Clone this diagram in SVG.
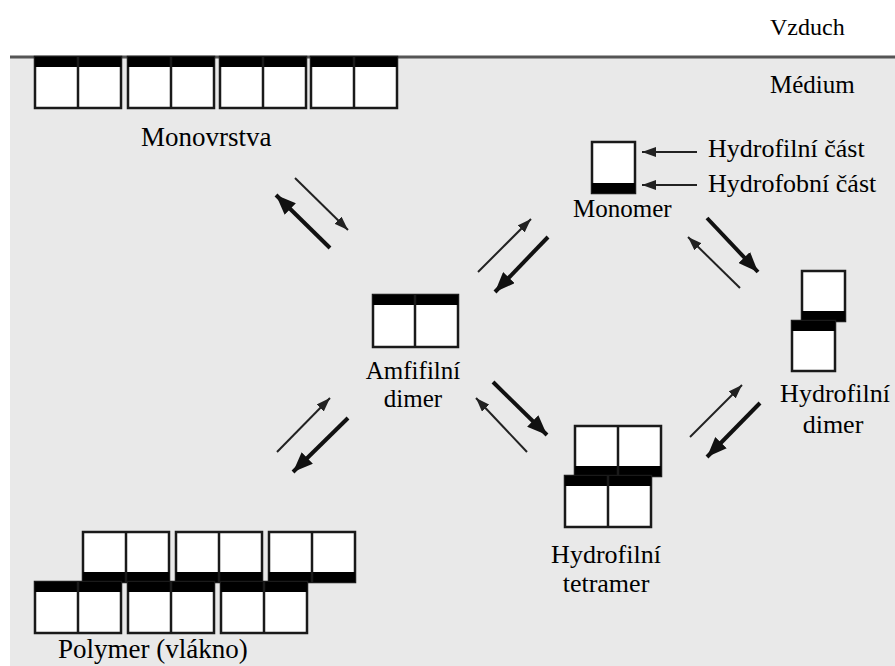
<svg xmlns="http://www.w3.org/2000/svg" width="895" height="666" viewBox="0 0 895 666">
<defs>
<marker id="hs" markerUnits="userSpaceOnUse" markerWidth="14" markerHeight="10" refX="14" refY="5" orient="auto"><path d="M0,0 L14,5 L0,10 z" fill="#222"/></marker>
<marker id="hb" markerUnits="userSpaceOnUse" markerWidth="20" markerHeight="16" refX="20" refY="8" orient="auto"><path d="M0,0 L20,8 L0,16 z" fill="#111"/></marker>
<g id="pairTop"><rect x="0" y="0" width="86" height="51" fill="#fff" stroke="#1a1a1a" stroke-width="2.5"/><rect x="0" y="0" width="86" height="10" fill="#000"/><line x1="43" y1="0" x2="43" y2="51" stroke="#1a1a1a" stroke-width="2.5"/></g>
<g id="pairBottom"><rect x="0" y="0" width="86" height="50" fill="#fff" stroke="#1a1a1a" stroke-width="2.5"/><rect x="0" y="40" width="86" height="10" fill="#000"/><line x1="43" y1="0" x2="43" y2="50" stroke="#1a1a1a" stroke-width="2.5"/></g>
</defs>
<rect x="0" y="0" width="895" height="666" fill="#fff"/>
<rect x="10" y="57" width="885" height="609" fill="#e9e9e9"/>
<line x1="10" y1="57" x2="895" y2="57" stroke="#555" stroke-width="3"/>
<text x="770" y="35" font-family="Liberation Serif" font-size="24">Vzduch</text>
<text x="770" y="93" font-family="Liberation Serif" font-size="25">Médium</text>

<g id="monovrstva">
<use href="#pairTop" x="35" y="57"/>
<use href="#pairTop" x="128" y="57"/>
<use href="#pairTop" x="220" y="57"/>
<use href="#pairTop" x="311" y="57"/>
<text x="141" y="146" font-family="Liberation Serif" font-size="27">Monovrstva</text>
</g>

<g id="monomer">
<rect x="592" y="142" width="43" height="51" fill="#fff" stroke="#1a1a1a" stroke-width="2.5"/><rect x="592" y="183" width="43" height="10" fill="#000"/>
<text x="573" y="217" font-family="Liberation Serif" font-size="25">Monomer</text>
<line x1="697" y1="152" x2="642" y2="152" stroke="#222" stroke-width="2" marker-end="url(#hs)"/>
<line x1="697" y1="185" x2="642" y2="185" stroke="#222" stroke-width="2" marker-end="url(#hs)"/>
<text x="708" y="157" font-family="Liberation Serif" font-size="26">Hydrofilní část</text>
<text x="708" y="192" font-family="Liberation Serif" font-size="26">Hydrofobní část</text>
</g>

<g id="amfifilni-dimer">
<rect x="373" y="295" width="85" height="52" fill="#fff" stroke="#1a1a1a" stroke-width="2.5"/><rect x="373" y="295" width="85" height="10" fill="#000"/><line x1="415" y1="295" x2="415" y2="347" stroke="#1a1a1a" stroke-width="2.5"/>
<text x="413" y="379" text-anchor="middle" font-family="Liberation Serif" font-size="25">Amfifilní</text>
<text x="413" y="407" text-anchor="middle" font-family="Liberation Serif" font-size="25">dimer</text>
</g>

<g id="hydrofilni-dimer">
<rect x="802" y="271" width="43" height="50" fill="#fff" stroke="#1a1a1a" stroke-width="2.5"/><rect x="802" y="311" width="43" height="10" fill="#000"/>
<rect x="792" y="321" width="43" height="50" fill="#fff" stroke="#1a1a1a" stroke-width="2.5"/><rect x="792" y="321" width="43" height="10" fill="#000"/>
<text x="835" y="402" text-anchor="middle" font-family="Liberation Serif" font-size="26">Hydrofilní</text>
<text x="833" y="433" text-anchor="middle" font-family="Liberation Serif" font-size="26">dimer</text>
</g>

<g id="hydrofilni-tetramer">
<use href="#pairBottom" x="575" y="426"/>
<use href="#pairTop" x="565" y="476"/>
<text x="606" y="563" text-anchor="middle" font-family="Liberation Serif" font-size="26">Hydrofilní</text>
<text x="606" y="592" text-anchor="middle" font-family="Liberation Serif" font-size="26">tetramer</text>
</g>

<g id="polymer">
<use href="#pairBottom" x="83" y="532"/>
<use href="#pairBottom" x="176" y="532"/>
<use href="#pairBottom" x="269" y="532"/>
<use href="#pairTop" x="35" y="582"/>
<use href="#pairTop" x="128" y="582"/>
<use href="#pairTop" x="221" y="582"/>
<text x="58" y="658" font-family="Liberation Serif" font-size="27">Polymer (vlákno)</text>
</g>

<g id="connectors" fill="none">
<line x1="295" y1="178" x2="348" y2="230" stroke="#222" stroke-width="2" marker-end="url(#hs)"/>
<line x1="330" y1="248" x2="276" y2="195" stroke="#111" stroke-width="4" marker-end="url(#hb)"/>
<line x1="478" y1="272" x2="531" y2="219" stroke="#222" stroke-width="2" marker-end="url(#hs)"/>
<line x1="548" y1="237" x2="495" y2="292" stroke="#111" stroke-width="4" marker-end="url(#hb)"/>
<line x1="707" y1="218" x2="758" y2="272" stroke="#111" stroke-width="4" marker-end="url(#hb)"/>
<line x1="740" y1="288" x2="688" y2="237" stroke="#222" stroke-width="2" marker-end="url(#hs)"/>
<line x1="690" y1="437" x2="742" y2="385" stroke="#222" stroke-width="2" marker-end="url(#hs)"/>
<line x1="760" y1="403" x2="707" y2="457" stroke="#111" stroke-width="4" marker-end="url(#hb)"/>
<line x1="493" y1="382" x2="547" y2="435" stroke="#111" stroke-width="4" marker-end="url(#hb)"/>
<line x1="527" y1="452" x2="476" y2="398" stroke="#222" stroke-width="2" marker-end="url(#hs)"/>
<line x1="277" y1="452" x2="330" y2="398" stroke="#222" stroke-width="2" marker-end="url(#hs)"/>
<line x1="348" y1="418" x2="293" y2="472" stroke="#111" stroke-width="4" marker-end="url(#hb)"/>
</g>
</svg>
